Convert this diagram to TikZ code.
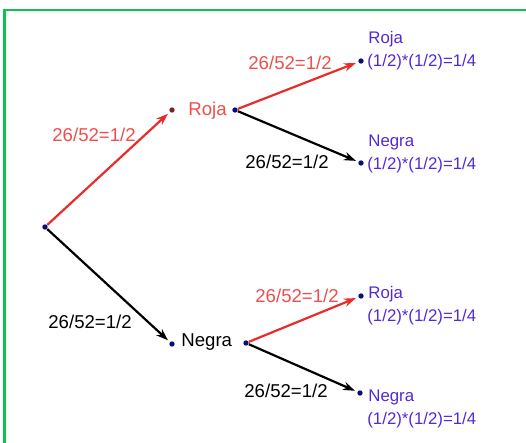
\documentclass[tikz,border=0pt]{standalone}
\usepackage{fontspec}
\setmainfont{Liberation Sans}
\usepackage{xcolor}
\usetikzlibrary{arrows.meta}
\definecolor{rojo}{RGB}{232,44,44}
\definecolor{rojotxt}{RGB}{238,78,78}
\definecolor{azul}{RGB}{84,40,214}
\definecolor{punto}{RGB}{12,12,120}
\definecolor{puntorojo}{RGB}{120,36,36}
\definecolor{marco}{RGB}{10,196,80}

\begin{document}
\begin{tikzpicture}[x=0.5pt,y=-0.5pt,
  dot/.style={circle,fill=punto,inner sep=0pt,minimum size=2.7pt},
  rama/.style={line width=1.1pt,shorten >=1.2pt,-{Stealth[length=6pt,width=4.2pt]}},
  prob/.style={anchor=base west,inner sep=0pt,font=\fontsize{9.3}{11}\selectfont},
  hoja/.style={anchor=base west,inner sep=0pt,text=azul,font=\fontsize{8.4}{10}\selectfont}]
\useasboundingbox (0,0) rectangle (526,443);
\clip (0,0) rectangle (526,443);
% frame
\draw[marco,line width=1.1pt] (4.5,10) rectangle (540,460);
% points
\node[dot] (raiz) at (45,227) {};
\node[dot,fill=puntorojo] (roja) at (172,110) {};
\node[dot] (roja2) at (235,110) {};
\node[dot] (negra) at (172,344) {};
\node[dot] (negra2) at (246,343) {};
\node[dot] (rr) at (361,61) {};
\node[dot] (rn) at (361,163) {};
\node[dot] (nr) at (361,296) {};
\node[dot] (nn) at (360,393) {};
% branches
\draw[rama,rojo] (raiz) -- (roja);
\draw[rama,black] (raiz) -- (negra);
\draw[rama,rojo] (roja2) -- (rr);
\draw[rama,black] (roja2) -- (rn);
\draw[rama,rojo] (negra2) -- (nr);
\draw[rama,black] (negra2) -- (nn);
% first level labels
\node[prob,text=rojotxt] (lroja) at (188,116) {Roja};
\node[prob] (lnegra) at (181,347) {Negra};
\node[prob,text=rojotxt] (p1) at (52,142) {26/52=1/2};
\node[prob] (p2) at (48,329) {26/52=1/2};
\node[prob,text=rojotxt] (p3) at (248,70) {26/52=1/2};
\node[prob] (p4) at (245,169) {26/52=1/2};
\node[prob,text=rojotxt] (p5) at (255,303) {26/52=1/2};
\node[prob] (p6) at (244,398) {26/52=1/2};
% leaves
\foreach \n/\col/\y/\yy in {rr/Roja/44/67, rn/Negra/146.5/170, nr/Roja/299/322, nn/Negra/402/425}
{
  \node[hoja] (\n-a) at (368,\y) {\col};
  \node[hoja] (\n-b) at (367,\yy) {(1/2)*(1/2)=1/4};
}
\end{tikzpicture}
\end{document}
